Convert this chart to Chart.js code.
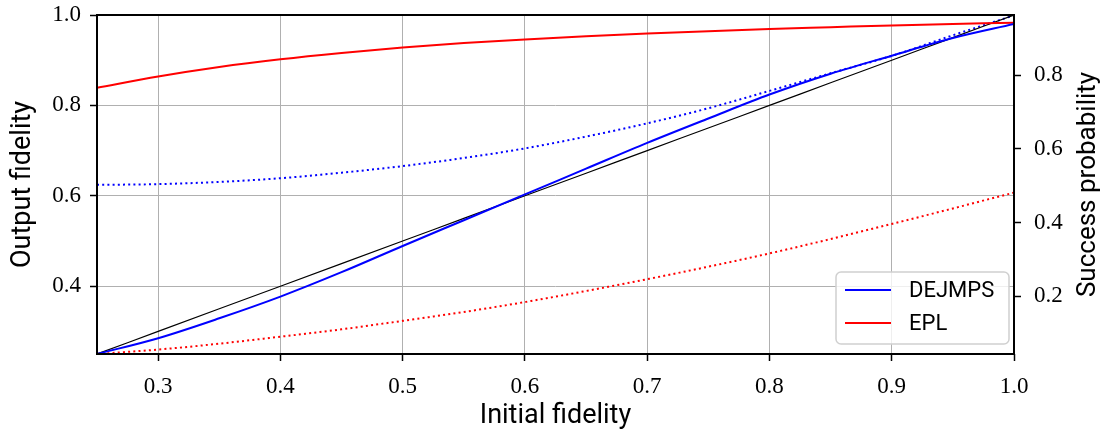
<!DOCTYPE html>
<html>
<head>
<meta charset="utf-8">
<script src="https://cdn.jsdelivr.net/npm/chart.js@4/dist/chart.umd.min.js"></script>
<style>
  html, body { margin: 0; padding: 0; background: #fff; }
  #wrap { width: 1109px; height: 432px; }
</style>
</head>
<body>
<div id="wrap"><canvas id="chart" width="1109" height="432"></canvas></div>
<script>
const fidelity = [0.25, 0.3, 0.35, 0.4, 0.45, 0.5, 0.55, 0.6, 0.65, 0.7, 0.75, 0.8, 0.85, 0.9, 0.95, 1.0];

const dejmpsFidelity = [0.250, 0.285, 0.329, 0.377, 0.431, 0.489, 0.546, 0.603, 0.660, 0.717, 0.771, 0.824, 0.870, 0.910, 0.949, 0.980];
const eplFidelity    = [0.839, 0.864, 0.885, 0.902, 0.916, 0.928, 0.938, 0.946, 0.953, 0.959, 0.964, 0.969, 0.973, 0.977, 0.980, 0.983];

const dejmpsSuccess = [0.502, 0.504, 0.510, 0.520, 0.535, 0.553, 0.575, 0.601, 0.633, 0.669, 0.710, 0.757, 0.805, 0.852, 0.908, 0.962];
const eplSuccess    = [0.043, 0.055, 0.071, 0.090, 0.110, 0.133, 0.157, 0.184, 0.214, 0.246, 0.280, 0.316, 0.355, 0.396, 0.438, 0.481];

const xTicks = [0.3, 0.4, 0.5, 0.6, 0.7, 0.8, 0.9, 1.0];
const fidTicks = [0.4, 0.6, 0.8, 1.0];
const probTicks = [0.2, 0.4, 0.6, 0.8];

const legendNames = ['DEJMPS', 'EPL'];

const serif = "'Liberation Serif', 'DejaVu Serif', serif";
const sans = "Roboto, 'Open Sans', sans-serif";

function pts(ys) {
    return fidelity.map((x, i) => ({ x: x, y: ys[i] }));
}

function line(label, ys, color, axis, dotted, width) {
    return {
        label: label,
        data: pts(ys),
        yAxisID: axis,
        borderColor: color,
        backgroundColor: color,
        borderWidth: width || 2,
        borderDash: dotted ? [2, 3.2] : [],
        pointRadius: 0,
        fill: false,
        cubicInterpolationMode: 'monotone'
    };
}

// keep the plot box fixed: axis sizes are set by hand, label overhang ignored
function fixSize(prop, size) {
    return (axis) => {
        axis[prop] = size;
        axis.paddingTop = 0;
        axis.paddingBottom = 0;
        axis.paddingLeft = 0;
        axis.paddingRight = 0;
    };
}

const frameAndLegend = {
    id: 'frameAndLegend',
    afterDatasetsDraw(chart) {
        const { ctx, chartArea: a } = chart;
        ctx.save();
        ctx.strokeStyle = '#000';
        ctx.lineWidth = 2;
        ctx.strokeRect(a.left, a.top, a.right - a.left, a.bottom - a.top);

        // legend box, lower right
        const bx = 836, by = 272, bw = 173, bh = 72, r = 5;
        ctx.beginPath();
        ctx.roundRect(bx, by, bw, bh, r);
        ctx.fillStyle = 'rgba(255,255,255,0.8)';
        ctx.fill();
        ctx.strokeStyle = '#d0d0d0';
        ctx.lineWidth = 1.5;
        ctx.stroke();

        const items = chart.data.datasets.filter(d => legendNames.includes(d.label));
        ctx.font = '22px ' + sans;
        ctx.textBaseline = 'middle';
        items.forEach((d, i) => {
            const y = 290 + i * 33;
            ctx.strokeStyle = d.borderColor;
            ctx.lineWidth = 2;
            ctx.beginPath();
            ctx.moveTo(845, y);
            ctx.lineTo(891, y);
            ctx.stroke();
            ctx.fillStyle = '#000';
            ctx.fillText(d.label, 909, y + 1);
        });

        // right axis title reads bottom to top, like the left one
        ctx.translate(1088, (a.top + a.bottom) / 2);
        ctx.rotate(-Math.PI / 2);
        ctx.textAlign = 'center';
        ctx.fillStyle = '#000';
        ctx.font = '26px ' + sans;
        ctx.fillText('Success probability', 0, 0);
        ctx.restore();
    }
};

new Chart(document.getElementById('chart'), {
    type: 'line',
    data: {
        datasets: [
            line('DEJMPS', dejmpsFidelity, '#0000ff', 'y', false),
            line('EPL', eplFidelity, '#ff0000', 'y', false),
            line('diagonal', fidelity, '#000000', 'y', false, 1.2),
            line('DEJMPS success', dejmpsSuccess, '#0000ff', 'y2', true),
            line('EPL success', eplSuccess, '#ff0000', 'y2', true)
        ]
    },
    options: {
        responsive: false,
        animation: false,
        devicePixelRatio: 1,
        layout: { padding: { top: 15, left: 0, right: 0, bottom: 0 } },
        plugins: { legend: { display: false }, tooltip: { enabled: false } },
        scales: {
            x: {
                type: 'linear',
                min: 0.25,
                max: 1.0,
                afterBuildTicks: (axis) => { axis.ticks = xTicks.map(v => ({ value: v })); },
                afterFit: fixSize('height', 78),
                ticks: { color: '#000', font: { family: serif, size: 23 }, padding: 12, maxRotation: 0,
                         callback: (v) => v.toFixed(1) },
                grid: { color: '#b0b0b0', lineWidth: 1, tickColor: '#000', tickLength: 7, tickWidth: 1.5 },
                border: { display: false },
                title: { display: true, text: 'Initial fidelity', color: '#000',
                         font: { family: sans, size: 27 }, padding: { top: 0, bottom: 0 } }
            },
            y: {
                type: 'linear',
                position: 'left',
                min: 0.25,
                max: 1.0,
                afterBuildTicks: (axis) => { axis.ticks = fidTicks.map(v => ({ value: v })); },
                afterFit: fixSize('width', 97),
                ticks: { color: '#000', font: { family: serif, size: 23 }, padding: 9,
                         callback: (v) => v.toFixed(1) },
                grid: { color: '#b0b0b0', lineWidth: 1, tickColor: '#000', tickLength: 7, tickWidth: 1.5 },
                border: { display: false },
                title: { display: true, text: 'Output fidelity', color: '#000',
                         font: { family: sans, size: 27 }, padding: { top: 7, bottom: 0 } }
            },
            y2: {
                type: 'linear',
                position: 'right',
                min: 0.043,
                max: 0.963,
                afterBuildTicks: (axis) => { axis.ticks = probTicks.map(v => ({ value: v })); },
                afterFit: fixSize('width', 95),
                ticks: { color: '#000', font: { family: serif, size: 23 }, padding: 13,
                         callback: (v) => v.toFixed(1) },
                grid: { drawOnChartArea: false, tickColor: '#000', tickLength: 7, tickWidth: 1.5 },
                border: { display: false }
            }
        }
    },
    plugins: [frameAndLegend]
});
</script>
</body>
</html>
